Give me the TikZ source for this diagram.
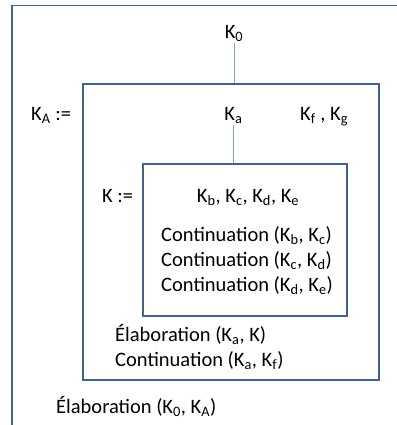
\documentclass[tikz,border=0pt]{standalone}
\usepackage{fontspec}
\setmainfont{Carlito}
\usetikzlibrary{positioning}
\definecolor{boxblue}{RGB}{66,98,146}
\definecolor{linkblue}{RGB}{125,160,210}
\newcommand{\Ksub}[1]{K\textsubscript{#1}}

\begin{document}
\begin{tikzpicture}[x=1bp, y=-1bp,
        frame/.style={draw=boxblue, line width=1.8bp, minimum width=#1},
        link/.style={draw=linkblue, line width=1bp},
        lbl/.style={inner sep=2bp, anchor=base, font=\fontsize{20.5bp}{25bp}\selectfont},
        lbll/.style={lbl, anchor=base west}
    ]
        \useasboundingbox (0,0) rectangle (397,425);
        \clip (0,0) rectangle (397,425);

        % outer context (cut off at right and bottom)
        \draw[frame=0pt] (12,440) |- (420,5.5);

        % boxes
        \node[frame=296bp, minimum height=296bp] (mid) at (231,232) {};
        \node[frame=204bp, minimum height=152bp] (inner) at (245,240) {};

        % labels
        \node[lbl] (k0) at (234,38) {\Ksub{0}};
        \node[lbll] (kA) at (29,120) {\Ksub{A} :=};
        \node[lbl] (ka) at (233.5,120) {\Ksub{a}};
        \node[lbll] (kfg) at (298,120) {\Ksub{f} , \Ksub{g}};
        \node[lbll] (kdef) at (100,202) {K :=};
        \node[lbl] (kbe) at (248,202) {\Ksub{b}, \Ksub{c}, \Ksub{d}, \Ksub{e}};
        \node[lbll] (cbc) at (159,241.5) {Continuation (\Ksub{b}, \Ksub{c})};
        \node[lbll] (ccd) at (159,266.5) {Continuation (\Ksub{c}, \Ksub{d})};
        \node[lbll] (cde) at (159,291.5) {Continuation (\Ksub{d}, \Ksub{e})};
        \node[lbll] (eak) at (113,341.5) {Élaboration (\Ksub{a}, K)};
        \node[lbll] (caf) at (113,366) {Continuation (\Ksub{a}, \Ksub{f})};
        \node[lbll] (e0A) at (54,413) {Élaboration (\Ksub{0}, \Ksub{A})};

        % links
        \draw[link] (k0.south) -- (k0.south |- mid.north);
        \draw[link] (ka.south) -- (ka.south |- inner.north);
    \end{tikzpicture}
\end{document}
